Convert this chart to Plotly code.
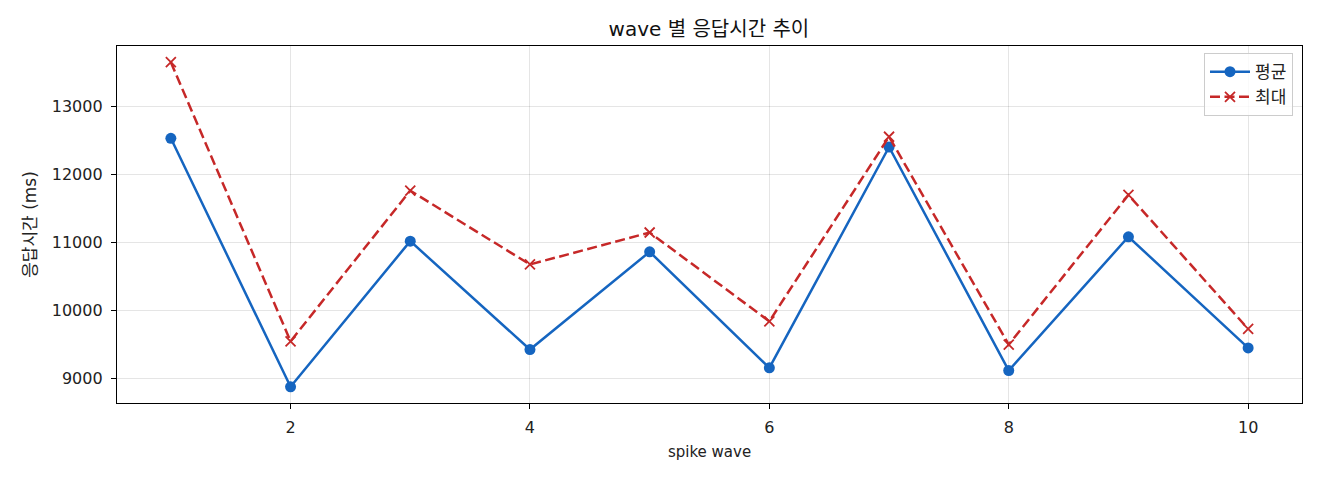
import plotly.graph_objects as go

FONT = "DejaVu Sans, Noto Sans CJK KR, sans-serif"

waves = [1, 2, 3, 4, 5, 6, 7, 8, 9, 10]
avg_ms = [12534, 8883, 11023, 9430, 10866, 9161, 12406, 9122, 11087, 9454]
max_ms = [13652, 9551, 11765, 10680, 11150, 9845, 12557, 9503, 11702, 9733]

x_ticks = [2, 4, 6, 8, 10]
y_ticks = [9000, 10000, 11000, 12000, 13000]

fig = go.Figure()
fig.add_trace(go.Scatter(
    x=waves, y=avg_ms, mode="lines+markers", name="평균",
    line=dict(color="#1565C0", width=2.5),
    marker=dict(symbol="circle", size=11, color="#1565C0"),
))
fig.add_trace(go.Scatter(
    x=waves, y=max_ms, mode="lines+markers", name="최대",
    line=dict(color="#C62828", width=2.5, dash="10px,4.5px"),
    marker=dict(symbol="x-thin", size=10, color="#C62828",
                line=dict(color="#C62828", width=1.8)),
))

axis_common = dict(
    showline=True, linecolor="black", linewidth=1.3, mirror=True,
    ticks="outside", ticklen=5, tickwidth=1.3, tickcolor="black",
    showgrid=True, gridcolor="rgba(0,0,0,0.1)", gridwidth=1,
    zeroline=False, tickfont=dict(size=16, color="#222"),
    tickformat="d", ticklabelstandoff=5,
)

# matplotlib-like 5% margins
xlo, xhi = min(waves), max(waves)
xpad = (xhi - xlo) * 0.05
ylo, yhi = min(avg_ms + max_ms), max(avg_ms + max_ms)
ypad = (yhi - ylo) * 0.05

fig.update_xaxes(axis_common, range=[xlo - xpad, xhi + xpad], tickvals=x_ticks,
                 title=dict(text="spike wave", font=dict(size=15, color="#222"), standoff=10))
fig.update_yaxes(axis_common, range=[ylo - ypad, yhi + ypad], tickvals=y_ticks,
                 title=dict(text="응답시간 (ms)", font=dict(size=17, color="#222"), standoff=10))

fig.update_layout(
    width=1320, height=480,
    margin=dict(l=109, r=26, t=38, b=85),
    paper_bgcolor="white", plot_bgcolor="white",
    font=dict(family=FONT, color="#222"),
    title=dict(text="wave 별 응답시간 추이", x=0.531, xanchor="center",
               y=0.956, yanchor="middle", font=dict(size=20, color="#111")),
    legend=dict(x=0.9924, y=0.98, xanchor="right", yanchor="top",
                bgcolor="rgba(255,255,255,0.8)", bordercolor="#ccc", borderwidth=1,
                font=dict(size=17), itemwidth=40),
    showlegend=True,
)

fig.write_html("out.html")
